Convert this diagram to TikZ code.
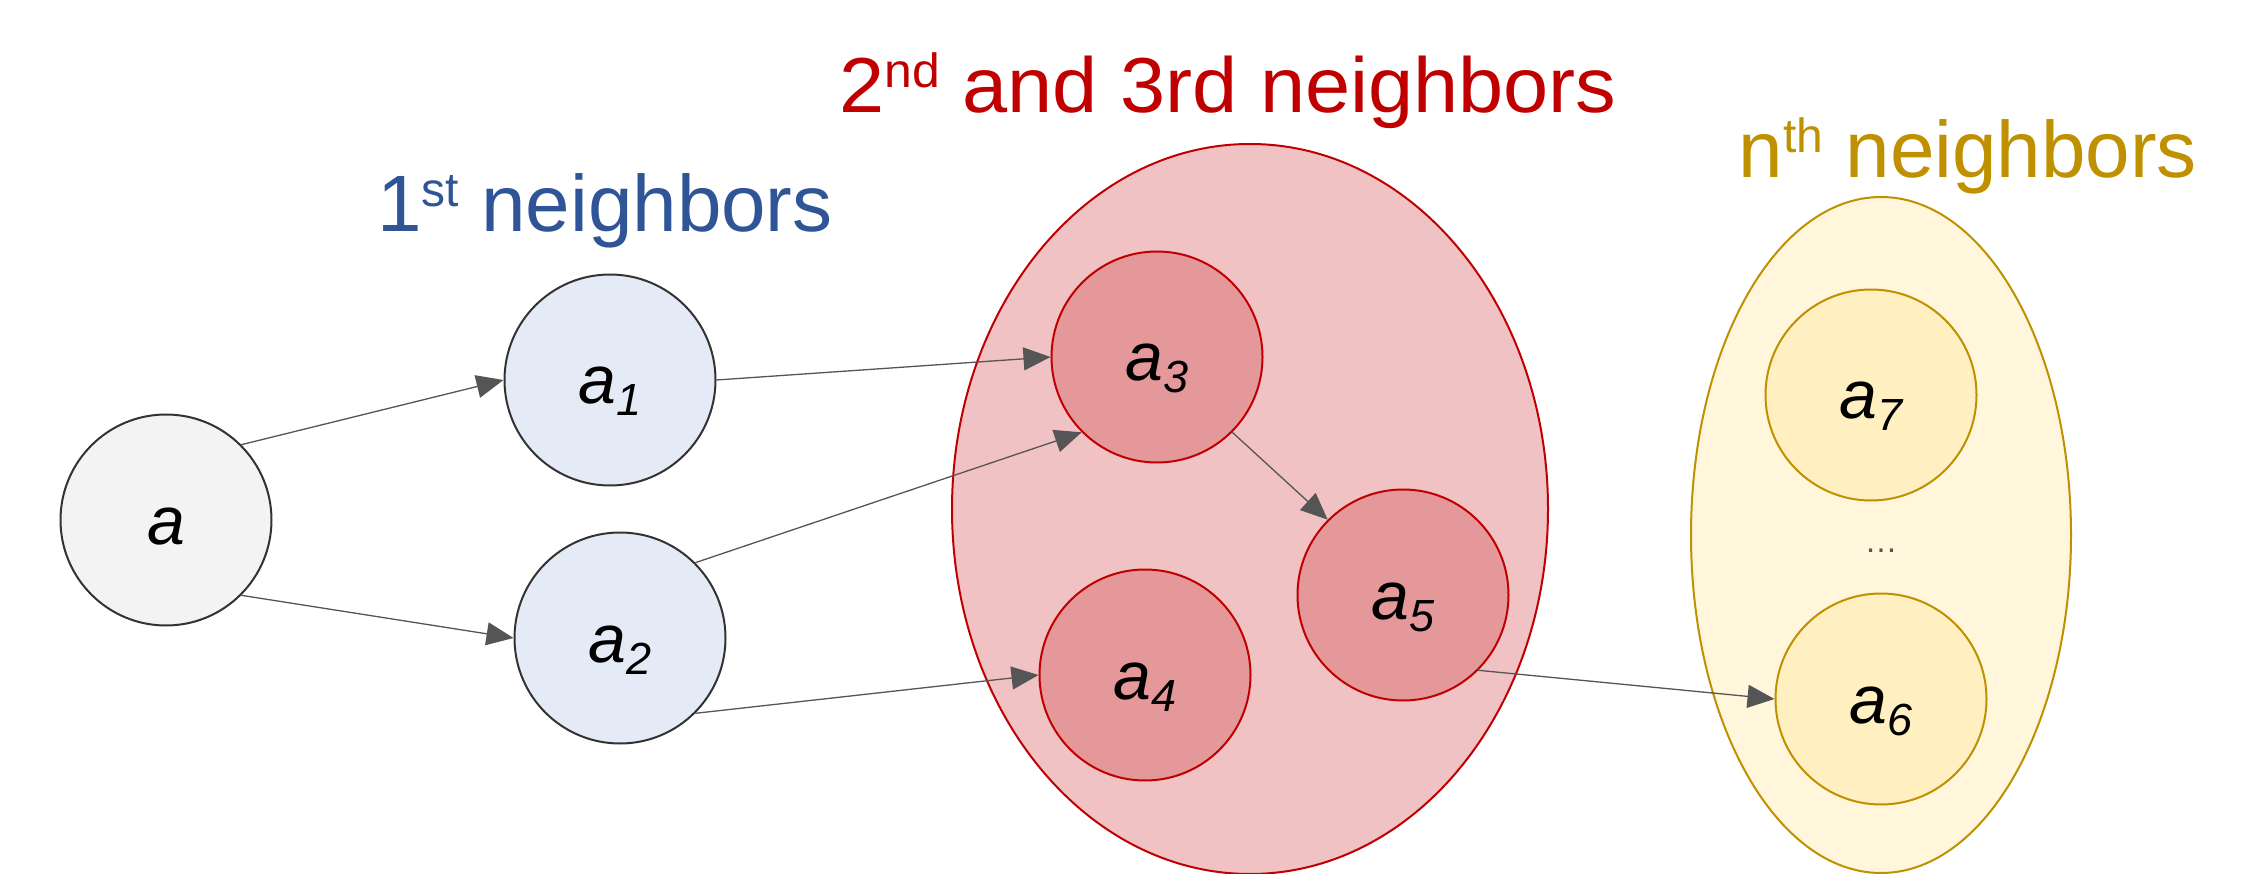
\documentclass[tikz,border=0pt]{standalone}
\usepackage{fontspec}
\setmainfont{Liberation Sans}
\usetikzlibrary{shapes.geometric,arrows.meta}
\definecolor{titleblue}{HTML}{2F5597}
\definecolor{titlered}{HTML}{C00000}
\definecolor{titlegold}{HTML}{BF9000}
\definecolor{nodegray}{HTML}{F3F3F3}
\definecolor{nodeblue}{HTML}{E5EBF6}
\definecolor{groupred}{HTML}{F0C2C3}
\definecolor{nodered}{HTML}{E59899}
\definecolor{groupgold}{HTML}{FFF6DB}
\definecolor{nodegold}{HTML}{FFEFC1}
\definecolor{darkline}{HTML}{333333}
\definecolor{arrowgray}{HTML}{555555}
\newcommand{\mysub}[1]{\raisebox{-12pt}{\fontsize{45}{45}\selectfont #1}}
\newcommand{\mysup}[1]{\raisebox{25pt}{\fontsize{48}{48}\selectfont #1}}
\newcommand{\nodefont}{\fontsize{68}{80}\selectfont\itshape}
\newcommand{\titlefont}{\fontsize{80}{90}\selectfont}
\begin{document}
\begin{tikzpicture}[x=1pt,y=-1pt,
  vertex/.style={circle, minimum size=211pt, inner sep=0pt, line width=2pt, font=\nodefont, text height=48pt, text depth=0pt},
  graynode/.style={vertex, draw=darkline, fill=nodegray},
  bluenode/.style={vertex, draw=darkline, fill=nodeblue},
  rednode/.style={vertex, draw=titlered, fill=nodered},
  goldnode/.style={vertex, draw=titlegold, fill=nodegold},
  groupbox/.style={ellipse, inner sep=0pt, line width=2pt},
  conn/.style={draw=arrowgray, line width=1.3pt, -{Triangle[length=27pt,width=23pt]}},
  titletext/.style={anchor=base, inner sep=0pt, font=\titlefont}
]
\useasboundingbox (0,0) rectangle (2260,874);
% groups
\node[groupbox, draw=titlered, fill=groupred, minimum width=596pt, minimum height=730pt] (g2) at (1250,509) {};
\node[groupbox, draw=titlegold, fill=groupgold, minimum width=380pt, minimum height=676pt] (gn) at (1881,535) {};
% titles
\node[titletext, text=titleblue] (t1) at (605,232) {1\mysup{st} neighbors};
\node[titletext, text=titlered, font=\fontsize{78}{90}\selectfont] (t2) at (1228,113) {\scalebox{1.04}[1]{2\mysup{nd} and 3rd neighbors}};
\node[titletext, text=titlegold] (t3) at (1968,178) {n\mysup{th} neighbors};
% nodes
\node[graynode] (a) at (166,520) {a};
\node[bluenode] (a1) at (610,380) {a\mysub{1}};
\node[bluenode] (a2) at (620,638) {a\mysub{2}};
\node[rednode] (a3) at (1157,357) {a\mysub{3}};
\node[rednode] (a4) at (1145,675) {a\mysub{4}};
\node[rednode] (a5) at (1403,595) {a\mysub{5}};
\node[goldnode] (a7) at (1871,395) {a\mysub{7}};
\node[goldnode] (a6) at (1881,699) {a\mysub{6}};
\node[text=arrowgray, font=\fontsize{33}{33}\selectfont, inner sep=0pt] (dots) at (1881,551) {…};
% connectors
\draw[conn] (a.45) -- (a1.west);
\draw[conn] (a.-45) -- (a2.west);
\draw[conn] (a1.east) -- (a3.west);
\draw[conn] (a2.45) -- (a3.225);
\draw[conn] (a2.-45) -- (a4.west);
\draw[conn] (a3.-45) -- (a5.135);
\draw[conn] (a5.-45) -- (a6.west);
\end{tikzpicture}
\end{document}
